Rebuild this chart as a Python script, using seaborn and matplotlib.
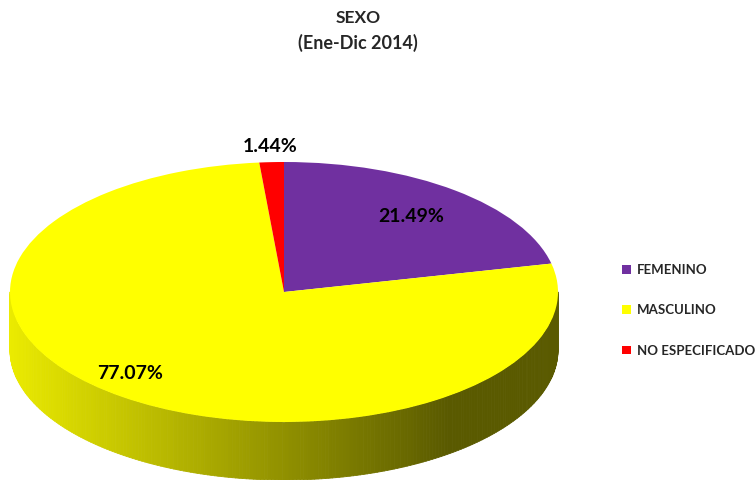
import numpy as np
import matplotlib
matplotlib.use("Agg")
import matplotlib.pyplot as plt
from matplotlib.collections import PolyCollection
from matplotlib.patches import Patch
from matplotlib.transforms import Affine2D
import seaborn as sns

categories = ["FEMENINO", "MASCULINO", "NO ESPECIFICADO"]
percent = [21.49, 77.07, 1.44]
colors = ["#7030a0", "#ffff00", "#ff0000"]
title = "SEXO"
subtitle = "(Ene-Dic 2014)"

sns.set_style("white")
plt.rcParams["font.family"] = ["Lato", "DejaVu Sans"]

W, H = 755, 480
fig = plt.figure(figsize=(W / 100, H / 100), dpi=100)
ax = fig.add_axes([0, 0, 1, 1])

# ellipse geometry of the 3D pie (pixels)
cx, cy, a, b, depth = 284, 292, 274, 130, 58
squash = Affine2D().scale(a, -b).translate(cx, cy) + ax.transData

# side wall of the front half, shaded from light to dark
t = np.linspace(np.pi, 2 * np.pi, 240)
polys, fcols = [], []
for t0, t1 in zip(t[:-1], t[1:]):
    x0, x1 = cx + a * np.cos(t0), cx + a * np.cos(t1)
    y0, y1 = cy - b * np.sin(t0), cy - b * np.sin(t1)
    polys.append([(x0, y0), (x1, y1), (x1, y1 + depth), (x0, y0 + depth)])
    xm = (x0 + x1) / 2
    f = np.clip((xm - 10) / 440, 0, 1)
    v = (235 - 145 * f) / 255
    fcols.append((v, v, 0))
side = PolyCollection(polys, facecolors=fcols, edgecolors=fcols, linewidths=0.6, zorder=1)
ax.add_collection(side)

wedges, _ = ax.pie(percent, colors=colors, startangle=90, counterclock=False,
                   radius=1, center=(0, 0))
for w in wedges:
    w.set_transform(squash)
    w.set_zorder(2)
    w.set_linewidth(0)

# percentage labels
dist = [0.74, 0.84, 1.12]
shift = [0, -6, 0]
for w, p, d, s in zip(wedges, percent, dist, shift):
    ang = np.deg2rad((w.theta1 + w.theta2) / 2 + s)
    ax.text(d * np.cos(ang), d * np.sin(ang), f"{p:.2f}%", transform=squash,
            ha="center", va="center", fontsize=14, fontweight="bold",
            color="black", zorder=5)

ax.set_aspect("auto")
ax.set_xlim(0, W)
ax.set_ylim(H, 0)
ax.axis("off")

fig.text(358 / W, 1 - 18 / H, title, ha="center", va="center",
         fontsize=12.5, fontweight="bold")
fig.text(358 / W, 1 - 43 / H, subtitle, ha="center", va="center",
         fontsize=13, fontweight="bold")

handles = [Patch(facecolor=c, edgecolor="none") for c in colors]
fig.legend(handles, categories, loc="upper left", bbox_to_anchor=(618 / W, 1 - 260 / H),
           frameon=False, prop={"size": 9.5, "weight": "bold"},
           handlelength=0.65, handleheight=0.65, handletextpad=0.5,
           labelspacing=2.15, borderaxespad=0, borderpad=0.3)

fig.savefig("out.png", dpi=100)
